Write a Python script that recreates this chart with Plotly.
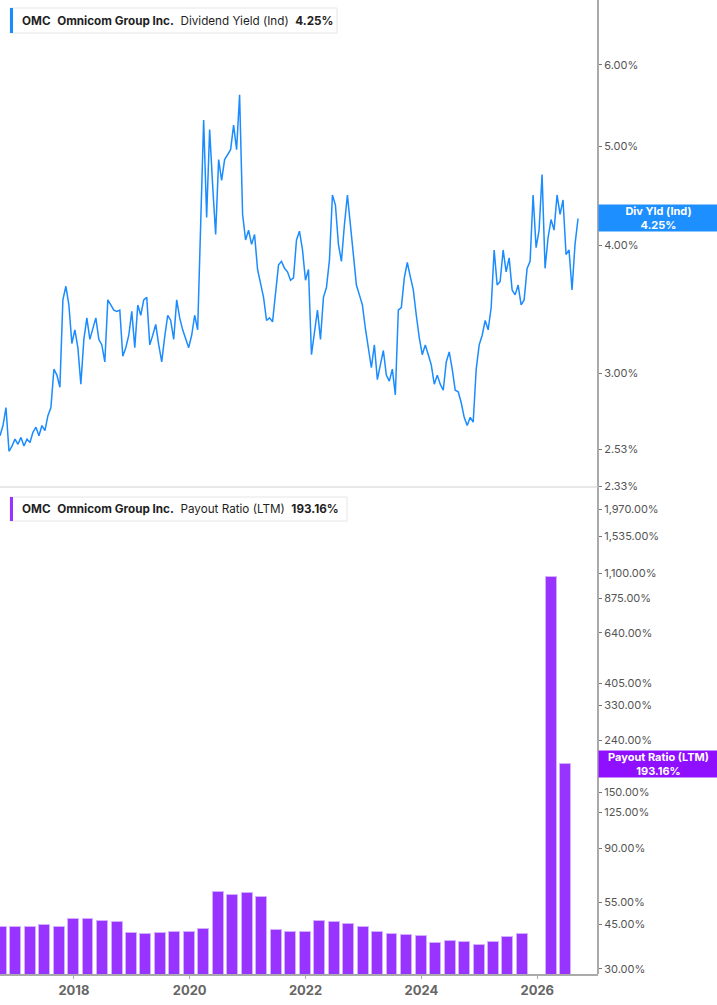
import numpy as np
import pandas as pd
import plotly.graph_objects as go

# ---------------- data ----------------
yield_dates = pd.date_range("2016-09-22", "2026-09-15", periods=194)
div_yield = [
    2.61, 2.67, 2.78, 2.52, 2.55, 2.59, 2.56, 2.60, 2.55, 2.59,
    2.57, 2.63, 2.66, 2.61, 2.67, 2.64, 2.73, 2.78, 3.03, 2.99,
    2.91, 3.54, 3.65, 3.50, 3.21, 3.31, 3.18, 2.93, 3.24, 3.40,
    3.24, 3.31, 3.40, 3.24, 3.20, 3.08, 3.54, 3.50, 3.46, 3.45,
    3.46, 3.12, 3.18, 3.27, 3.45, 3.18, 3.50, 3.42, 3.54, 3.56,
    3.20, 3.27, 3.35, 3.20, 3.08, 3.26, 3.42, 3.38, 3.24, 3.54,
    3.40, 3.31, 3.24, 3.18, 3.27, 3.42, 3.31, 4.24, 5.30, 4.26,
    5.19, 4.58, 4.10, 4.85, 4.63, 4.85, 4.90, 4.96, 5.24, 4.96,
    5.61, 4.29, 4.05, 4.14, 4.01, 4.10, 3.79, 3.66, 3.56, 3.38,
    3.40, 3.37, 3.58, 3.83, 3.86, 3.80, 3.77, 3.70, 3.72, 4.05,
    4.13, 3.96, 3.70, 3.79, 3.13, 3.31, 3.46, 3.24, 3.56, 3.64,
    3.87, 4.48, 4.38, 4.01, 3.86, 4.19, 4.48, 4.19, 3.89, 3.66,
    3.58, 3.50, 3.32, 3.16, 3.04, 3.20, 2.96, 3.06, 3.16, 2.99,
    2.95, 3.03, 2.86, 3.46, 3.48, 3.72, 3.85, 3.73, 3.62, 3.42,
    3.25, 3.13, 3.20, 3.13, 3.06, 2.93, 2.99, 2.93, 2.89, 3.08,
    3.15, 3.03, 2.89, 2.88, 2.81, 2.72, 2.67, 2.72, 2.69, 3.03,
    3.20, 3.27, 3.38, 3.31, 3.48, 3.96, 3.66, 3.69, 3.96, 3.77,
    3.89, 3.62, 3.58, 3.66, 3.50, 3.54, 3.80, 3.86, 4.48, 3.98,
    4.14, 4.69, 3.80, 4.07, 4.24, 4.14, 4.48, 4.29, 4.43, 3.92,
    3.96, 3.62, 4.01, 4.25,
]

payout_dates = pd.date_range("2016-09-30", periods=40, freq="QE")
payout_ratio = [
    44.1, 44.1, 43.9, 44.6, 44.0, 47.4, 47.2, 46.6, 45.9, 41.5,
    41.2, 41.5, 42.1, 42.2, 43.1, 60.6, 58.8, 59.7, 57.8, 42.7,
    42.1, 42.2, 46.4, 46.0, 45.2, 44.1, 42.2, 41.4, 40.8, 40.5,
    37.9, 38.7, 38.2, 37.4, 38.3, 40.1, 41.4, None, 1060.0, 193.16,
]

yield_ticks = [2.33, 2.53, 3.0, 4.0, 5.0, 6.0]
payout_ticks = [30, 45, 55, 90, 125, 150, 240, 330, 405, 640, 875, 1100, 1535, 1970]
year_ticks = ["2018", "2020", "2022", "2024", "2026"]

last_yield = 4.25
last_payout = 193.16

# ---------------- styling ----------------
BLUE = "#1a8cff"
PURPLE = "#9933ff"
FONT = "Inter"

fig = go.Figure()
fig.add_trace(go.Scatter(
    x=yield_dates, y=div_yield, mode="lines",
    line=dict(color=BLUE, width=1.5),
    xaxis="x", yaxis="y", hoverinfo="skip",
))
fig.add_trace(go.Bar(
    x=payout_dates, y=payout_ratio,
    marker=dict(color=PURPLE, line=dict(color="#d2b0ff", width=1)),
    width=69 * 86400000,
    xaxis="x2", yaxis="y2", hoverinfo="skip",
))

xrange = ["2016-09-22", "2027-01-19"]

fig.update_layout(
    width=717, height=1005,
    margin=dict(l=0, r=119, t=0, b=31),
    paper_bgcolor="white", plot_bgcolor="white",
    showlegend=False,
    hovermode=False,
    font=dict(family=FONT),
    xaxis=dict(domain=[0, 1], anchor="y", type="date", range=xrange,
               matches="x2", showticklabels=False, showgrid=False,
               zeroline=False, showline=False, ticks=""),
    yaxis=dict(domain=[0.5, 1], type="log",
               range=[np.log10(2.326), np.log10(6.94)],
               side="right", tickvals=yield_ticks,
               ticktext=[f"{v:.2f}%" for v in yield_ticks],
               ticks="outside", ticklen=3, tickcolor="#777",
               showgrid=False, zeroline=False, showline=False,
               tickfont=dict(size=11, color="#555", family=FONT)),
    xaxis2=dict(domain=[0, 1], anchor="y2", type="date", range=xrange,
                tickvals=[f"{y}-01-01" for y in year_ticks],
                ticktext=year_ticks,
                showline=True, linecolor="#aaa", linewidth=2,
                ticks="outside", ticklen=3, tickcolor="#aaa",
                showgrid=False, zeroline=False,
                tickfont=dict(size=13, color="#666", family=FONT, weight="bold")),
    yaxis2=dict(domain=[0, 0.499], type="log",
                range=[1.4573, 3.3783],
                side="right", tickvals=payout_ticks,
                ticktext=[f"{v:,.2f}%" for v in payout_ticks],
                ticks="outside", ticklen=3, tickcolor="#777",
                showgrid=False, zeroline=False, showline=False,
                tickfont=dict(size=11, color="#555", family=FONT)),
    bargap=0,
)

H = 974.0  # plot-area height in px
W = 598.0  # plot-area width in px


def py(px):
    return 1 - px / H


def pxx(px):
    return px / W


shapes = [
    dict(type="line", xref="paper", yref="paper", x0=1, x1=1, y0=0, y1=1,
         line=dict(color="#aaa", width=2)),
    dict(type="line", xref="paper", yref="paper", x0=0, x1=1, y0=0.5, y1=0.5,
         line=dict(color="#d0d0d0", width=1)),
    dict(type="rect", xref="paper", yref="paper",
         x0=pxx(10), x1=pxx(337), y0=py(33), y1=py(8),
         fillcolor="white", line=dict(color="#e6e6e6", width=1)),
    dict(type="rect", xref="paper", yref="paper",
         x0=pxx(10), x1=pxx(13), y0=py(33), y1=py(8),
         fillcolor=BLUE, line=dict(width=0)),
    dict(type="rect", xref="paper", yref="paper",
         x0=pxx(10), x1=pxx(347), y0=py(521), y1=py(497),
         fillcolor="white", line=dict(color="#e6e6e6", width=1)),
    dict(type="rect", xref="paper", yref="paper",
         x0=pxx(10), x1=pxx(13), y0=py(521), y1=py(497),
         fillcolor=PURPLE, line=dict(width=0)),
]
fig.update_layout(shapes=shapes)

sp = "&nbsp;&nbsp;"
annotations = [
    dict(xref="paper", yref="paper", x=pxx(20), y=py(20.5),
         xanchor="left", yanchor="middle", showarrow=False,
         text=f"<b>OMC</b>{sp}<b>Omnicom Group Inc.</b>{sp}Dividend Yield (Ind){sp}<b>{last_yield:.2f}%</b>",
         font=dict(size=11.7, color="#1f1f1f", family=FONT)),
    dict(xref="paper", yref="paper", x=pxx(20), y=py(509),
         xanchor="left", yanchor="middle", showarrow=False,
         text=f"<b>OMC</b>{sp}<b>Omnicom Group Inc.</b>{sp}Payout Ratio (LTM){sp}<b>{last_payout:.2f}%</b>",
         font=dict(size=11.7, color="#1f1f1f", family=FONT)),
    dict(xref="paper", yref="y", x=1, y=np.log10(last_yield),
         xanchor="left", yanchor="middle", showarrow=False,
         text=f"<b>Div Yld (Ind)<br>{last_yield:.2f}%</b>",
         bgcolor="#1e8fff", width=117, height=24, borderpad=1, align="center",
         font=dict(size=11, color="white", family=FONT)),
    dict(xref="paper", yref="y2", x=1, y=np.log10(last_payout),
         xanchor="left", yanchor="middle", showarrow=False,
         text=f"<b>Payout Ratio (LTM)<br>{last_payout:.2f}%</b>",
         bgcolor="#8f10ff", width=117, height=24, borderpad=1, align="center",
         font=dict(size=11, color="white", family=FONT)),
]
fig.update_layout(annotations=annotations)

fig.write_html(
    "out.html",
    config={"displayModeBar": False},
    post_script="document.body.style.margin='0';document.body.style.overflow='hidden';",
)
